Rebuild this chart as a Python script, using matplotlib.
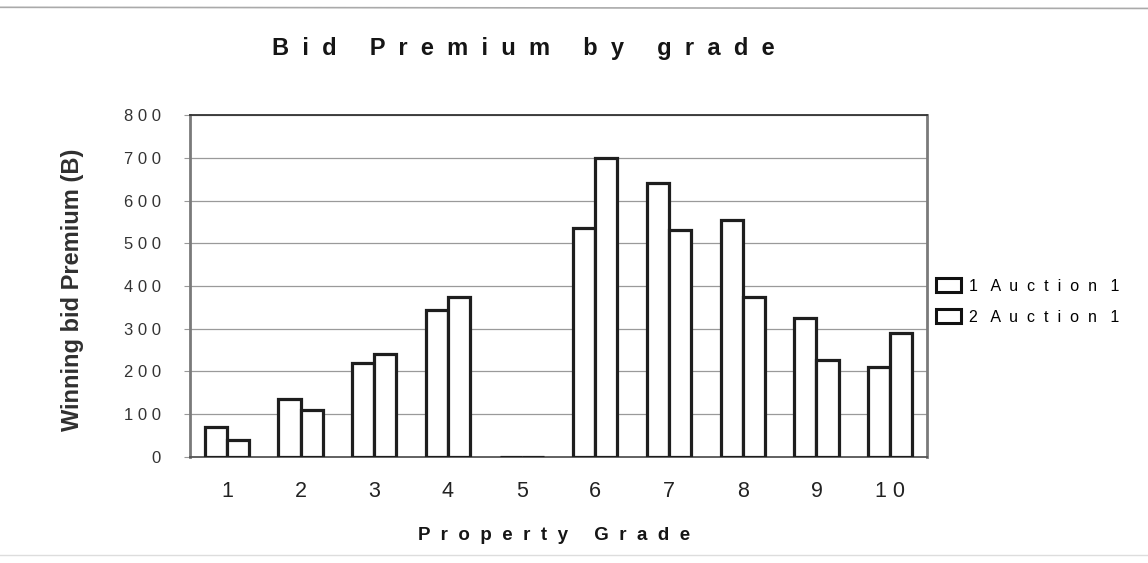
import matplotlib
matplotlib.use("Agg")
import matplotlib.pyplot as plt
from matplotlib.lines import Line2D
from matplotlib.patches import Rectangle
import numpy as np

plt.rcParams['font.family'] = ['Liberation Sans', 'DejaVu Sans']

# winning bid premium per property grade
grades = ['1', '2', '3', '4', '5', '6', '7', '8', '9', '10']
auction_1 = [70, 135, 220, 345, 0, 535, 640, 555, 325, 210]
auction_2 = [40, 110, 240, 375, 0, 700, 530, 375, 228, 290]
series_names = ['1 Auction 1', '2 Auction 1']
y_ticks = [0, 100, 200, 300, 400, 500, 600, 700, 800]


def spaced(s, n_letter=1, n_word=3):
    # spread letters out the way the old spreadsheet export did
    words = s.split(' ')
    return (' ' * n_word).join((' ' * n_letter).join(w) for w in words)


fig = plt.figure(figsize=(11.48, 5.63), dpi=100)
ax = fig.add_axes([0.1655, 0.1883, 0.642, 0.6074])

x = np.arange(len(grades))
w = 0.3
edge = '#1e1e1e'
ax.bar(x - w / 2, auction_1, w, color='white', edgecolor=edge, linewidth=2.3, zorder=3)
ax.bar(x + w / 2, auction_2, w, color='white', edgecolor=edge, linewidth=2.3, zorder=3)

ax.set_xlim(-0.5, len(grades) - 0.5)
ax.set_ylim(0, 800)
ax.set_yticks(y_ticks)
ax.set_yticklabels([spaced(str(v)) for v in y_ticks], fontsize=12, color='#333333')
ax.set_xticks(x)
ax.set_xticklabels([spaced(g) for g in grades], fontsize=15.5, color='#222222')
ax.tick_params(axis='x', length=0, pad=17)
ax.tick_params(axis='y', length=4, color='#999999', pad=17)

ax.grid(axis='y', color='#9a9a9a', linewidth=0.9, zorder=0)
for side in ['left', 'right']:
    ax.spines[side].set_color('#7a7a7a')
    ax.spines[side].set_linewidth(2)
ax.spines['top'].set_color('#333333')
ax.spines['top'].set_linewidth(1.3)
ax.spines['bottom'].set_color('#555555')
ax.spines['bottom'].set_linewidth(1.3)

fig.text(0.456, 0.9023, spaced('Bid Premium by grade', 2, 5), fontsize=17, fontweight='bold',
         ha='center', va='baseline', color='#151515')
fig.text(0.483, 0.0409, spaced('Property Grade', 2, 5), fontsize=13.5, fontweight='bold',
         ha='center', va='baseline', color='#151515')
fig.text(0.063, 0.485, 'Winning bid Premium (B)', fontsize=17, fontweight='bold',
         rotation=90, ha='center', va='center', color='#303030')

handles = [Rectangle((0, 0), 1, 1, facecolor='white', edgecolor='#111111', linewidth=2.2)
           for _ in series_names]
fig.legend(handles, [spaced(n, 2, 3) for n in series_names],
           loc='upper left', bbox_to_anchor=(0.8155, 0.506), frameon=False,
           fontsize=11.5, handlelength=1.55, handleheight=0.95, handletextpad=0.5,
           labelspacing=1.0, borderaxespad=0, borderpad=0)

# faint rules framing the page
fig.add_artist(Line2D([0.0, 1.0], [0.987, 0.985], color='#aaaaaa', linewidth=1.2))
fig.add_artist(Line2D([0.0, 1.0], [0.014, 0.014], color='#dddddd', linewidth=1.0))

fig.savefig('out.png', dpi=100)
